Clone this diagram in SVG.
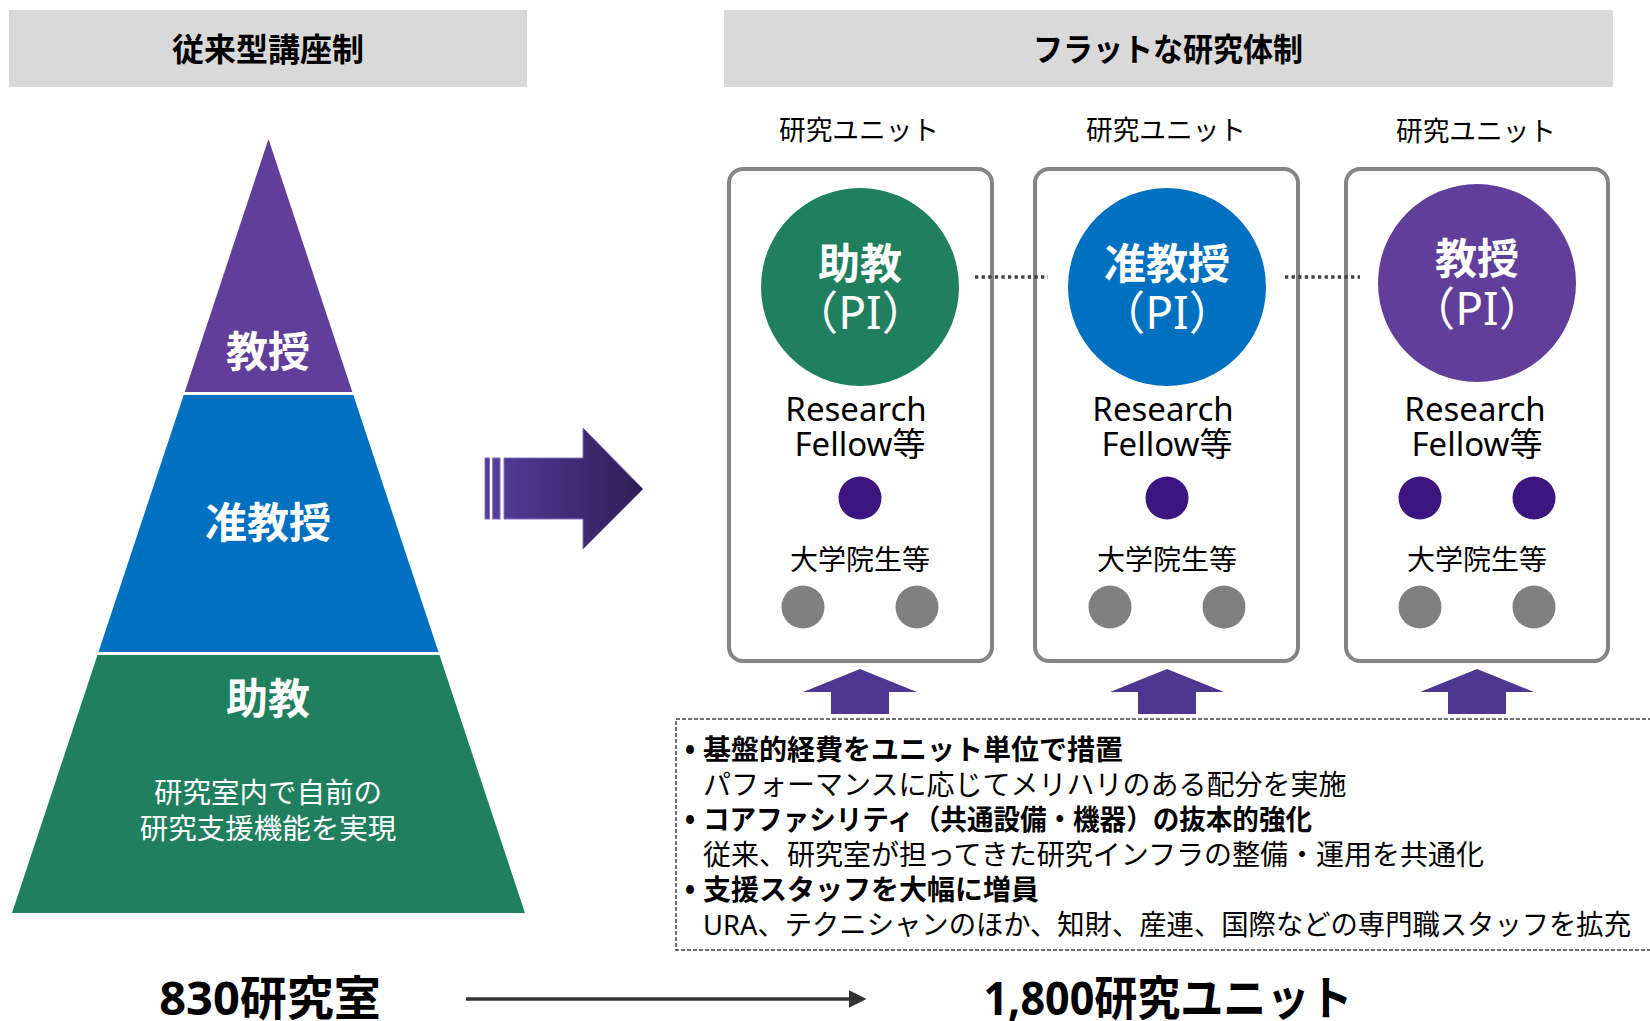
<svg xmlns="http://www.w3.org/2000/svg" width="1650" height="1021" viewBox="0 0 1650 1021">
<defs>
<style>
text{font-family:"Noto Sans","Noto Sans CJK JP",sans-serif;}
.hdr{font-size:32px;font-weight:bold;fill:#000;text-anchor:middle;}
.pyr{font-size:42px;font-weight:bold;fill:#fff;text-anchor:middle;}
.pyrs{font-size:28.5px;fill:#fff;text-anchor:middle;}
.ulab{font-size:27px;fill:#000;text-anchor:middle;}
.pi{font-size:42px;font-weight:bold;fill:#fff;text-anchor:middle;}
.pip{font-size:46px;fill:#fff;text-anchor:middle;}
.rf{font-size:33px;fill:#000;text-anchor:middle;}
.stu{font-size:28px;fill:#000;text-anchor:middle;}
.ub{fill:#fff;stroke:#858585;stroke-width:4;}
.fel{fill:#3c1580;}
.gry{fill:#808080;}
.uparr{fill:#4f3791;}
.dot{stroke:#404040;stroke-width:3.3;stroke-dasharray:3.3 3.3;fill:none;}
.bl{font-size:28px;fill:#000;}
.blb{font-size:28px;font-weight:bold;fill:#000;}
.big{font-size:47px;font-weight:bold;fill:#000;text-anchor:middle;}
</style>
<linearGradient id="gArrow" x1="485" y1="0" x2="643" y2="0" gradientUnits="userSpaceOnUse">
<stop offset="0" stop-color="#553d9c"/>
<stop offset="1" stop-color="#2e1f56"/>
</linearGradient>
<marker id="mHead" markerWidth="5" markerHeight="5" refX="0" refY="2.5" orient="auto" markerUnits="strokeWidth" viewBox="0 0 5 5">
<path d="M0,0 L5,2.5 L0,5 Z" fill="#333"/>
</marker>
</defs>
<rect width="1650" height="1021" fill="#fff"/>

<g id="header-left">
<rect x="9" y="10" width="518" height="77" fill="#d9d9d9"/>
<text class="hdr" x="268" y="61">従来型講座制</text>
</g>
<g id="header-right">
<rect x="724" y="10" width="889" height="77" fill="#d9d9d9"/>
<text class="hdr" x="1168" y="61" textLength="270" lengthAdjust="spacingAndGlyphs">フラットな研究体制</text>
</g>

<g id="pyramid-professor">
<polygon points="268.5,139 352.3,392 184.7,392" fill="#603e99"/>
<text class="pyr" x="268" y="367">教授</text>
</g>
<g id="pyramid-associate">
<polygon points="183.7,395 353.3,395 438.5,652 98.5,652" fill="#0070c0"/>
<text class="pyr" x="268" y="538">准教授</text>
</g>
<g id="pyramid-assistant">
<polygon points="97.5,655 439.5,655 525,913 12,913" fill="#207f5f"/>
<text class="pyr" x="268" y="714">助教</text>
<text class="pyrs" x="268" y="803">研究室内で自前の</text>
<text class="pyrs" x="268" y="839">研究支援機能を実現</text>
</g>

<g id="unit-1">
<text class="ulab" x="859" y="140" textLength="160" lengthAdjust="spacingAndGlyphs">研究ユニット</text>
<rect class="ub" x="729" y="169" width="263" height="492" rx="14"/>
<circle cx="860" cy="287" r="99" fill="#207f5f"/>
<text class="pi" x="860" y="279">助教</text>
<text class="pip" x="860" y="329">（PI）</text>
<text class="rf" x="856" y="421">Research</text>
<text class="rf" x="860" y="456">Fellow等</text>
<circle class="fel" cx="860" cy="498" r="21.5"/>
<text class="stu" x="860" y="570">大学院生等</text>
<circle class="gry" cx="803" cy="607" r="21.5"/>
<circle class="gry" cx="917" cy="607" r="21.5"/>
</g>
<g id="unit-2">
<text class="ulab" x="1166" y="140" textLength="160" lengthAdjust="spacingAndGlyphs">研究ユニット</text>
<rect class="ub" x="1035" y="169" width="263" height="492" rx="14"/>
<circle cx="1167" cy="287" r="99" fill="#0070c0"/>
<text class="pi" x="1167" y="279">准教授</text>
<text class="pip" x="1167" y="329">（PI）</text>
<text class="rf" x="1163" y="421">Research</text>
<text class="rf" x="1167" y="456">Fellow等</text>
<circle class="fel" cx="1167" cy="498" r="21.5"/>
<text class="stu" x="1167" y="570">大学院生等</text>
<circle class="gry" cx="1110" cy="607" r="21.5"/>
<circle class="gry" cx="1224" cy="607" r="21.5"/>
</g>
<g id="unit-3">
<text class="ulab" x="1476" y="141" textLength="160" lengthAdjust="spacingAndGlyphs">研究ユニット</text>
<rect class="ub" x="1346" y="169" width="262" height="492" rx="14"/>
<circle cx="1477" cy="283" r="99" fill="#603e99"/>
<text class="pi" x="1477" y="274">教授</text>
<text class="pip" x="1477" y="325">（PI）</text>
<text class="rf" x="1475" y="421">Research</text>
<text class="rf" x="1477" y="456">Fellow等</text>
<circle class="fel" cx="1420" cy="498" r="21.5"/>
<circle class="fel" cx="1534" cy="498" r="21.5"/>
<text class="stu" x="1477" y="570">大学院生等</text>
<circle class="gry" cx="1420" cy="607" r="21.5"/>
<circle class="gry" cx="1534" cy="607" r="21.5"/>
</g>

<g id="measures">
<rect x="676" y="719" width="990" height="231" fill="none" stroke="#404040" stroke-width="1.5" stroke-dasharray="4 2"/>
<text class="blb" x="690" y="760" text-anchor="middle">•</text>
<text class="blb" x="703" y="760">基盤的経費をユニット単位で措置</text>
<text class="bl" x="703" y="795">パフォーマンスに応じてメリハリのある配分を実施</text>
<text class="blb" x="690" y="830" text-anchor="middle">•</text>
<text class="blb" x="703" y="830" textLength="609" lengthAdjust="spacingAndGlyphs">コアファシリティ（共通設備・機器）の抜本的強化</text>
<text class="bl" x="703" y="865">従来、研究室が担ってきた研究インフラの整備・運用を共通化</text>
<text class="blb" x="690" y="900" text-anchor="middle">•</text>
<text class="blb" x="703" y="900">支援スタッフを大幅に増員</text>
<text class="bl" x="703" y="935" textLength="928" lengthAdjust="spacingAndGlyphs">URA、テクニシャンのほか、知財、産連、国際などの専門職スタッフを拡充</text>
</g>

<g id="count-left">
<text class="big" x="270" y="1015">830研究室</text>
</g>
<g id="count-right">
<text class="big" x="1168" y="1015" textLength="369" lengthAdjust="spacingAndGlyphs">1,800研究ユニット</text>
</g>

<g id="connectors">
<g id="big-arrow" stroke="#8370bd" stroke-width="1">
<rect x="485" y="458" width="4.5" height="61" fill="#553d9c"/>
<rect x="492.7" y="458" width="7.3" height="61" fill="#553d9c"/>
<polygon points="504,458 583,458 583,428 643,489 583,549 583,519 504,519" fill="url(#gArrow)"/>
</g>
<line class="dot" x1="975" y1="277" x2="1048" y2="277"/>
<line class="dot" x1="1285" y1="277" x2="1360" y2="277"/>
<polygon class="uparr" points="860,669 917,692 889,692 889,714 831,714 831,692 803,692"/>
<polygon class="uparr" points="1167,669 1224,692 1196,692 1196,714 1138,714 1138,692 1110,692"/>
<polygon class="uparr" points="1477,669 1534,692 1506,692 1506,714 1448,714 1448,692 1420,692"/>
<line x1="466" y1="999" x2="849" y2="999" stroke="#333" stroke-width="3.5" marker-end="url(#mHead)"/>
</g>
</svg>
